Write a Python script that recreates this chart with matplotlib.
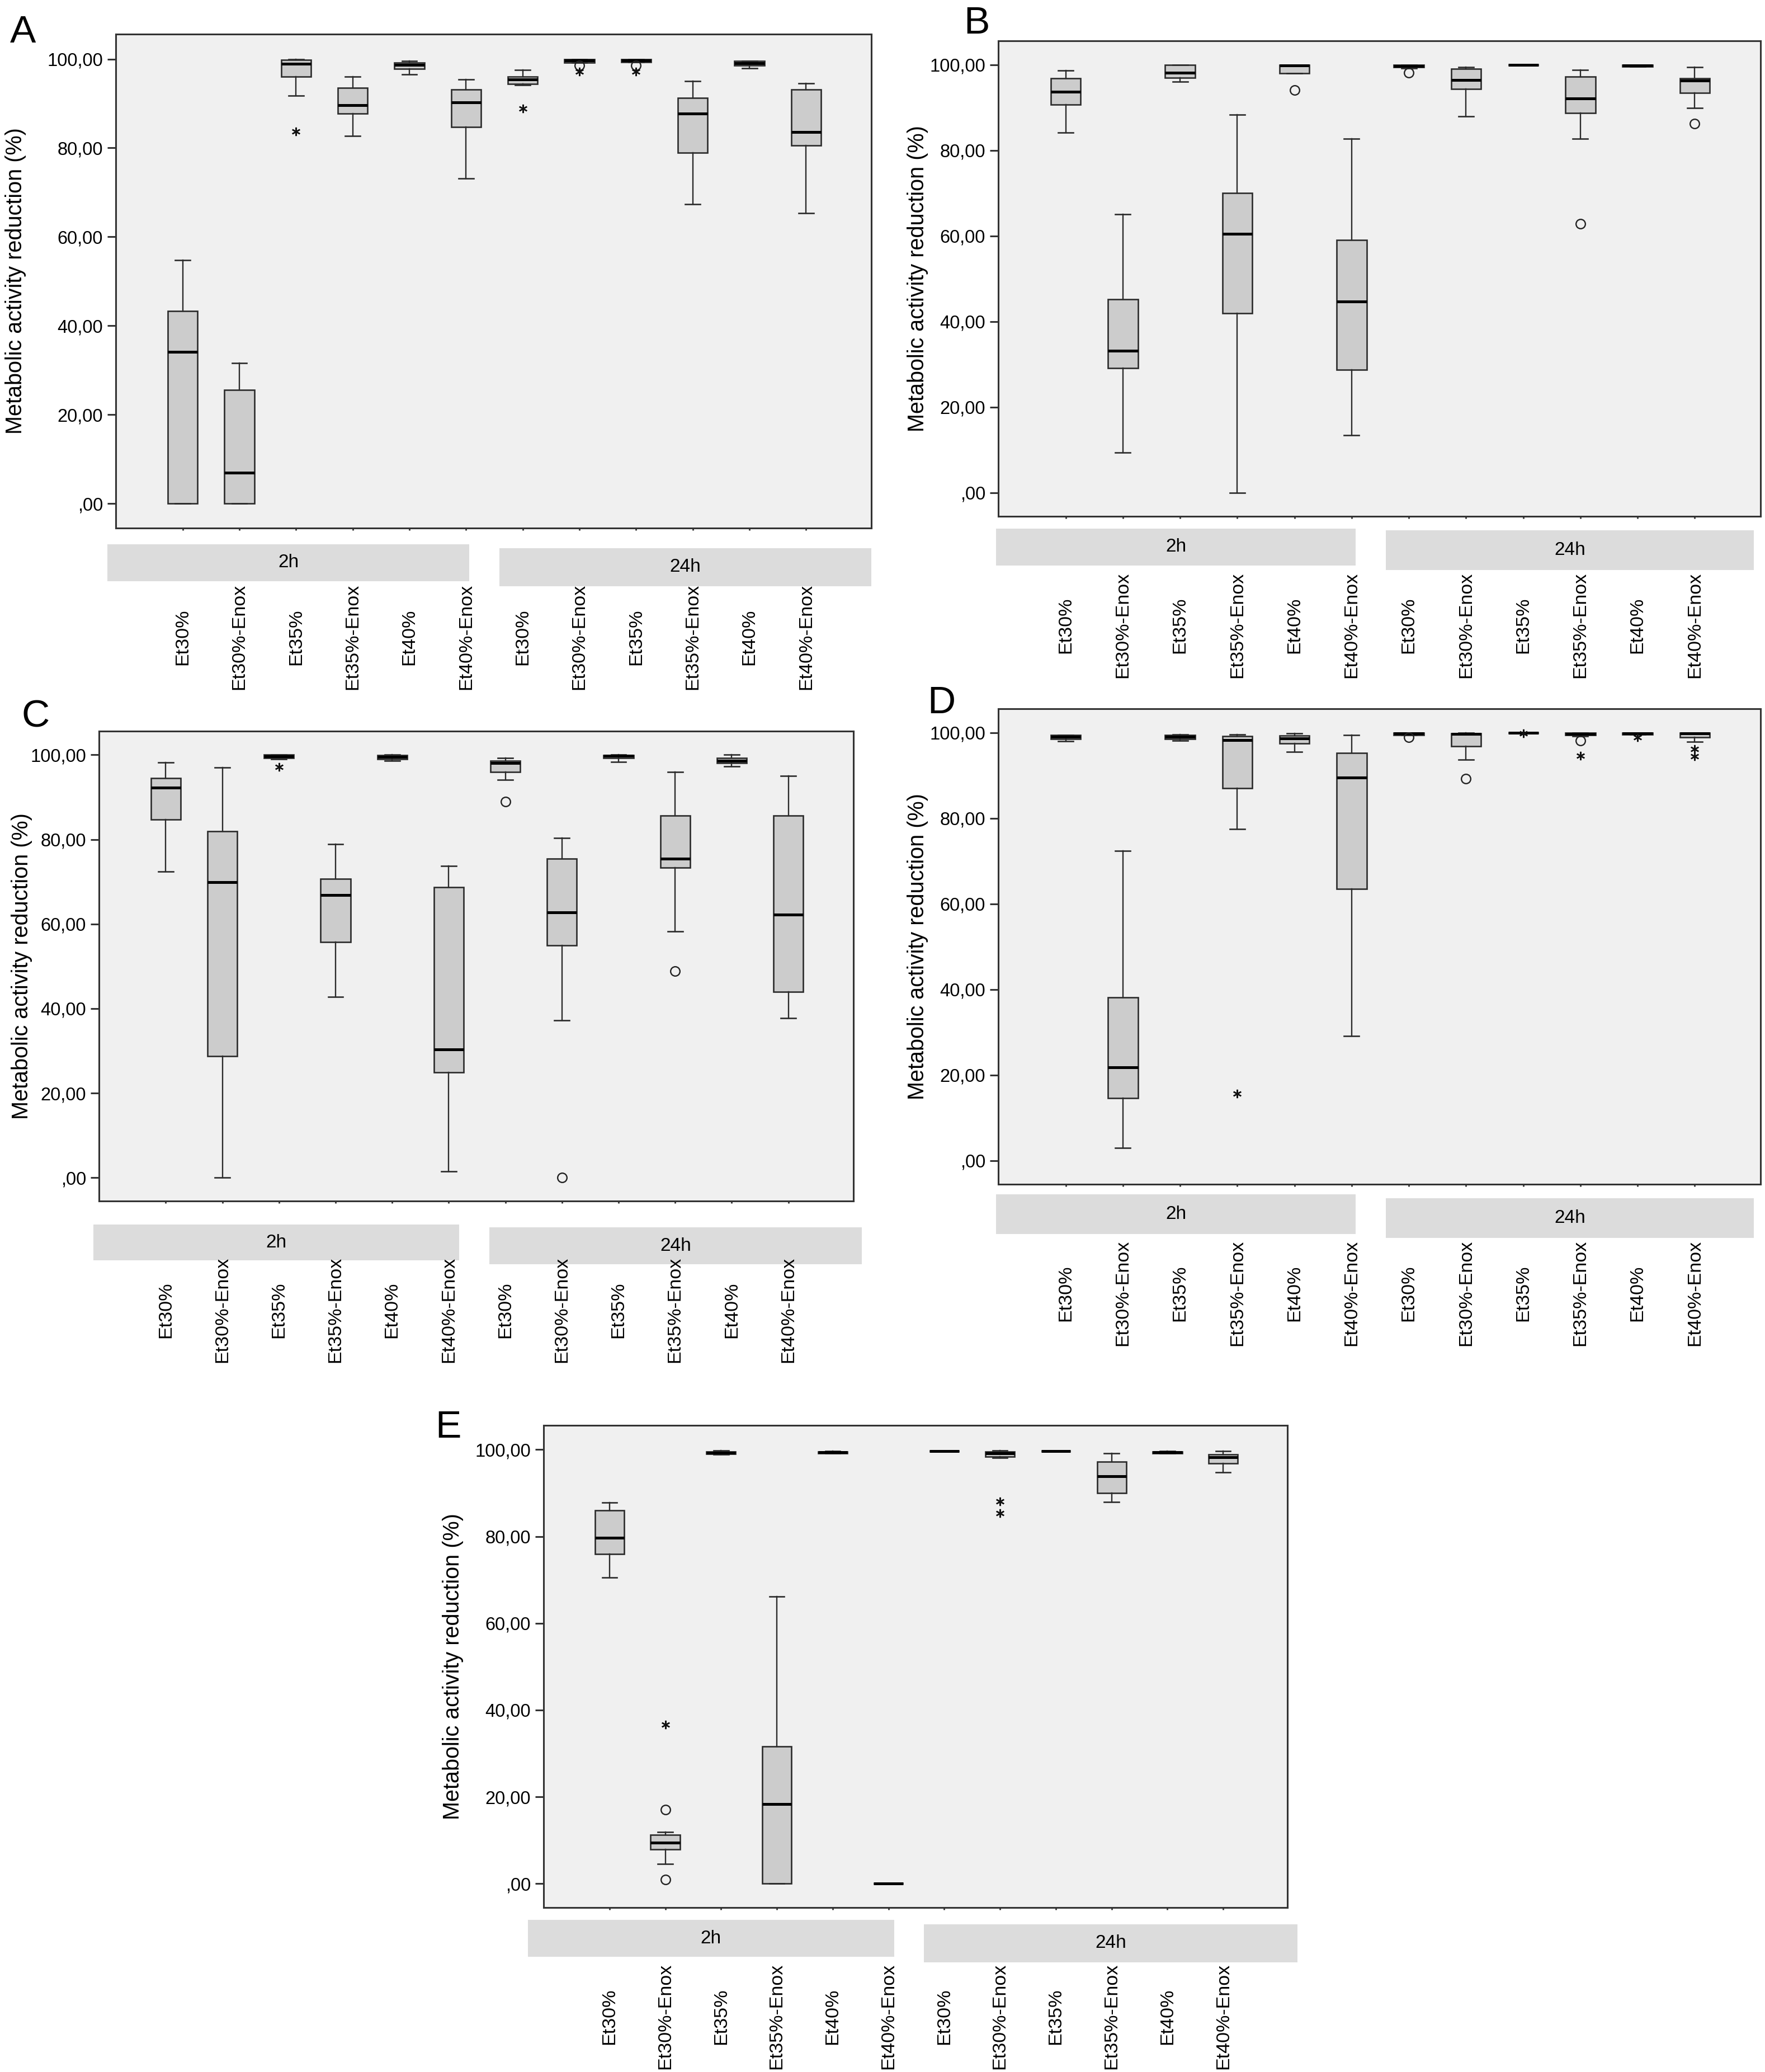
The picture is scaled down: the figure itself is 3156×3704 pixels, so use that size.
import matplotlib
matplotlib.use('Agg')
import matplotlib.pyplot as plt
from matplotlib.patches import Rectangle
from matplotlib.transforms import blended_transform_factory

plt.rcParams['font.family'] = ['Liberation Sans', 'DejaVu Sans']

# categorias (mesmas nos 5 paineis)
grupos = ['Et30%', 'Et30%-Enox', 'Et35%', 'Et35%-Enox', 'Et40%', 'Et40%-Enox'] * 2
tempos = ['2h', '24h']
y_ticks = [0, 20, 40, 60, 80, 100]
y_tick_labels = [',00', '20,00', '40,00', '60,00', '80,00', '100,00']
y_label = 'Metabolic activity reduction (%)'

# Painel A
A_hi = [54.8, 31.6, 100.0, 96.0, 99.6, 95.4, 97.6, 100.0, 100.0, 95.0, 99.6, 94.5]
A_q3 = [43.3, 25.6, 99.8, 93.5, 99.2, 93.2, 96.0, 100.0, 100.0, 91.2, 99.5, 93.2]
A_med = [34.1, 7.0, 98.9, 89.6, 98.7, 90.3, 95.4, 99.7, 99.7, 87.7, 99.1, 83.6]
A_q1 = [0.0, 0.0, 96.0, 87.7, 97.8, 84.7, 94.4, 99.2, 99.3, 78.9, 98.6, 80.5]
A_lo = [0.0, 0.0, 91.8, 82.7, 96.6, 73.2, 94.1, 99.2, 99.3, 67.3, 97.9, 65.3]
A_circ_x = [8, 9]
A_circ_y = [98.5, 98.5]
A_star_x = [3, 7, 8, 9]
A_star_y = [83.7, 88.9, 97.2, 97.2]

# Painel B
B_hi = [98.7, 65.1, 100.0, 88.4, 100.0, 82.7, 100.0, 99.4, 100.0, 98.8, 100.0, 99.4]
B_q3 = [96.8, 45.2, 100.0, 70.1, 100.0, 59.1, 100.0, 99.1, 100.0, 97.3, 100.0, 96.8]
B_med = [93.7, 33.2, 98.2, 60.5, 99.9, 44.7, 99.7, 96.4, 100.0, 92.1, 99.8, 96.3]
B_q1 = [90.7, 29.1, 97.0, 42.0, 98.0, 28.7, 99.4, 94.3, 100.0, 88.7, 99.6, 93.5]
B_lo = [84.2, 9.4, 96.0, 0.0, 98.0, 13.4, 99.2, 88.0, 100.0, 82.7, 99.6, 89.9]
B_circ_x = [5, 7, 10, 12]
B_circ_y = [94.1, 98.1, 62.9, 86.3]
B_star_x = []
B_star_y = []

# Painel C
C_hi = [98.2, 97.0, 100.0, 78.9, 100.0, 73.7, 99.3, 80.3, 100.0, 96.0, 100.0, 95.0]
C_q3 = [94.5, 81.9, 100.0, 70.7, 99.9, 68.7, 98.6, 75.4, 99.9, 85.6, 99.2, 85.6]
C_med = [92.2, 69.9, 99.7, 66.8, 99.5, 30.3, 98.0, 62.7, 99.8, 75.4, 98.6, 62.2]
C_q1 = [84.7, 28.7, 99.3, 55.7, 99.0, 24.9, 95.9, 54.9, 99.3, 73.3, 98.0, 43.9]
C_lo = [72.4, 0.0, 99.0, 42.8, 98.6, 1.5, 94.1, 37.2, 98.3, 58.2, 97.3, 37.7]
C_circ_x = [7, 8, 10]
C_circ_y = [89.0, 0.0, 48.8]
C_star_x = [3]
C_star_y = [97.1]

# Painel D
D_hi = [99.5, 72.4, 99.6, 99.6, 99.8, 99.4, 100.0, 100.0, 100.0, 100.0, 100.0, 100.0]
D_q3 = [99.4, 38.1, 99.4, 99.2, 99.3, 95.3, 100.0, 99.8, 100.0, 100.0, 100.0, 100.0]
D_med = [99.0, 21.8, 99.0, 98.3, 98.7, 89.5, 99.8, 99.7, 100.0, 99.7, 99.9, 99.8]
D_q1 = [98.5, 14.6, 98.5, 87.1, 97.5, 63.5, 99.5, 96.9, 100.0, 99.4, 99.6, 98.9]
D_lo = [98.0, 3.0, 98.2, 77.5, 95.6, 29.2, 99.4, 93.7, 100.0, 99.2, 99.6, 97.9]
D_circ_x = [7, 8, 10]
D_circ_y = [98.9, 89.2, 98.1]
D_star_x = [4, 9, 10, 11, 12, 12]
D_star_y = [15.7, 99.9, 94.6, 98.9, 96.2, 94.5]

# Painel E
E_hi = [87.8, 11.9, 99.8, 66.1, 99.7, 0.0, 99.7, 99.8, 99.7, 99.2, 99.7, 99.7]
E_q3 = [86.0, 11.3, 99.6, 31.6, 99.6, 0.0, 99.7, 99.6, 99.7, 97.2, 99.6, 98.9]
E_med = [79.7, 9.4, 99.3, 18.4, 99.4, 0.0, 99.7, 99.1, 99.7, 93.9, 99.4, 98.3]
E_q1 = [76.0, 7.9, 99.0, 0.0, 99.2, 0.0, 99.7, 98.4, 99.7, 90.0, 99.2, 96.9]
E_lo = [70.6, 4.5, 98.9, 0.0, 99.1, 0.0, 99.7, 98.1, 99.7, 87.9, 99.1, 94.8]
E_circ_x = [2, 2]
E_circ_y = [17.1, 0.9]
E_star_x = [2, 8, 8]
E_star_y = [36.6, 88.1, 85.4]

paineis = {
    'A': (A_hi, A_q3, A_med, A_q1, A_lo, A_circ_x, A_circ_y, A_star_x, A_star_y),
    'B': (B_hi, B_q3, B_med, B_q1, B_lo, B_circ_x, B_circ_y, B_star_x, B_star_y),
    'C': (C_hi, C_q3, C_med, C_q1, C_lo, C_circ_x, C_circ_y, C_star_x, C_star_y),
    'D': (D_hi, D_q3, D_med, D_q1, D_lo, D_circ_x, D_circ_y, D_star_x, D_star_y),
    'E': (E_hi, E_q3, E_med, E_q1, E_lo, E_circ_x, E_circ_y, E_star_x, E_star_y),
}

# layout em pixels: caixa do eixo (esq, topo, dir, baixo), letra, borda direita do ylabel,
# faixas 2h/24h (x0, x1 em unidades do eixo, distancia abaixo do eixo, altura)
W, H = 3156, 3704
layout = {
    'A': dict(ax=(207, 61, 1558, 944), letra=(18, 76), ylab=47,
              faixas=[(-0.33, 6.06, 29, 66), (6.59, 13.15, 36, 68)]),
    'B': dict(ax=(1785, 73, 3148, 923), letra=(1723, 60), ylab=1660,
              faixas=[(-0.22, 6.07, 22, 66), (6.6, 13.03, 25, 71)]),
    'C': dict(ax=(177, 1307, 1526, 2147), letra=(38, 1300), ylab=58,
              faixas=[(-0.28, 6.18, 42, 64), (6.72, 13.3, 47, 66)]),
    'D': dict(ax=(1785, 1267, 3148, 2117), letra=(1658, 1275), ylab=1660,
              faixas=[(-0.22, 6.07, 18, 71), (6.6, 13.03, 25, 71)]),
    'E': dict(ax=(972, 2548, 2302, 3410), letra=(778, 2570), ylab=829,
              faixas=[(-0.46, 6.1, 22, 66), (6.64, 13.33, 30, 68)]),
}

cor_eixo = '#333333'
fig = plt.figure(figsize=(W / 100, H / 100), dpi=100)

for nome, (hi, q3, med, q1, lo, cx, cy, sx, sy) in paineis.items():
    L = layout[nome]
    x0, y0, x1, y1 = L['ax']
    ax = fig.add_axes([x0 / W, 1 - y1 / H, (x1 - x0) / W, (y1 - y0) / H])
    ax.set_facecolor('#f0f0f0')
    alt_px = y1 - y0

    stats = []
    for i in range(len(grupos)):
        stats.append(dict(whishi=hi[i], q3=q3[i], med=med[i], q1=q1[i], whislo=lo[i]))
    pos = list(range(1, len(grupos) + 1))
    ax.bxp(stats, positions=pos, widths=0.525, capwidths=0.265, patch_artist=True,
           showfliers=False,
           boxprops=dict(facecolor='#cccccc', edgecolor='#2b2b2b', linewidth=1.9),
           medianprops=dict(color='black', linewidth=3.6, solid_capstyle='butt'),
           whiskerprops=dict(color='#2b2b2b', linewidth=1.7),
           capprops=dict(color='#2b2b2b', linewidth=1.9))

    # outliers (o) e extremos (*)
    ax.plot(cx, cy, linestyle='none', marker='o', ms=12, mfc='none', mec='#222222', mew=1.7, zorder=5)
    ax.plot(sx, sy, linestyle='none', marker=(6, 2, 0), ms=11, mec='#111111', mew=1.7, zorder=5)

    ax.set_xlim(-0.18, 13.15)
    ax.set_ylim(-5.5, 105.6)
    ax.set_yticks(y_ticks)
    ax.set_yticklabels(y_tick_labels)
    ax.set_xticks(pos)
    ax.set_xticklabels(grupos, rotation=90, va='center')
    ax.tick_params(axis='y', length=10.8, width=2.2, pad=5.8, labelsize=23.5, color=cor_eixo)
    ax.tick_params(axis='x', length=3, width=2, pad=137, labelsize=24.5, color=cor_eixo)
    for s in ax.spines.values():
        s.set_color(cor_eixo)
        s.set_linewidth(2.2)

    ax.set_ylabel(y_label, fontsize=28.5)
    ax.yaxis.set_label_coords((L['ylab'] - x0) / (x1 - x0), 0.5)

    # faixas 2h / 24h abaixo do eixo
    trans = blended_transform_factory(ax.transData, ax.transAxes)
    for (fx0, fx1, gap, alt), t in zip(L['faixas'], tempos):
        yb = -(gap + alt) / alt_px
        ax.add_patch(Rectangle((fx0, yb), fx1 - fx0, alt / alt_px, transform=trans,
                               facecolor='#dcdcdc', edgecolor='none', clip_on=False))
        ax.text((fx0 + fx1) / 2, yb + alt / alt_px / 2, t, transform=trans,
                ha='center', va='center', fontsize=24)

    lx, ly = L['letra']
    fig.text(lx / W, 1 - ly / H, nome, fontsize=50, va='baseline', ha='left')

fig.savefig('out.png', dpi=100)
